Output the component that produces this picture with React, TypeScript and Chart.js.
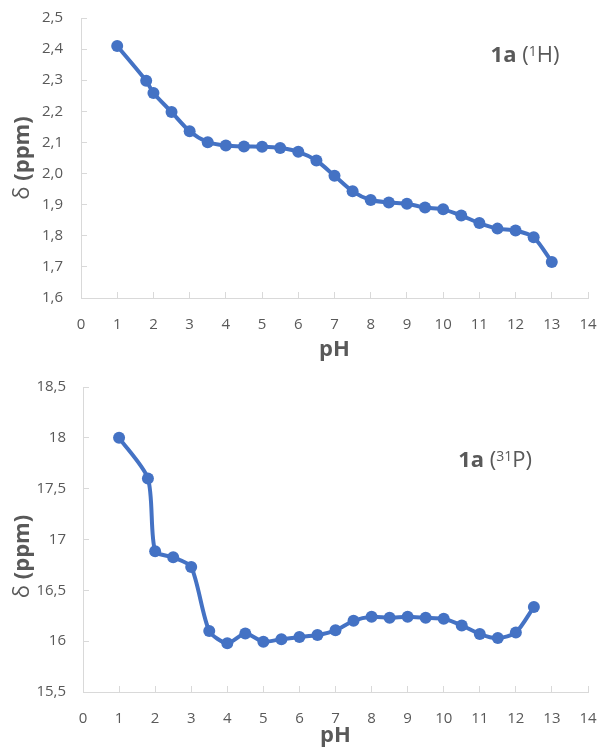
import React, { useEffect, useRef } from "react";
import { Chart, registerables } from "chart.js";

Chart.register(...registerables);

// ---- data ----
const phH = [1, 1.8, 2, 2.5, 3, 3.5, 4, 4.5, 5, 5.5, 6, 6.5, 7, 7.5, 8, 8.5, 9, 9.5, 10, 10.5, 11, 11.5, 12, 12.5, 13];
const deltaH = [2.41, 2.298, 2.259, 2.198, 2.136, 2.101, 2.09, 2.087, 2.086, 2.082, 2.07, 2.042, 1.993, 1.943, 1.915, 1.907, 1.903, 1.891, 1.885, 1.865, 1.841, 1.823, 1.817, 1.795, 1.716];
const phP = [1, 1.8, 2, 2.5, 3, 3.5, 4, 4.5, 5, 5.5, 6, 6.5, 7, 7.5, 8, 8.5, 9, 9.5, 10, 10.5, 11, 11.5, 12, 12.5];
const deltaP = [18.0, 17.6, 16.885, 16.825, 16.73, 16.1, 15.98, 16.075, 15.995, 16.02, 16.04, 16.06, 16.107, 16.2, 16.24, 16.23, 16.24, 16.23, 16.22, 16.155, 16.07, 16.03, 16.085, 16.337];

const xTitle = "pH";
const yTitleSymbol = "δ";
const yTitleUnit = " (ppm)";
// annotation text parts: [text, kind] where kind: b = bold, n = normal, s = superscript
const labelTopParts: [string, string][] = [["1a", "b"], [" (", "n"], ["1", "s"], ["H)", "n"]];
const labelBottomParts: [string, string][] = [["1a", "b"], [" (", "n"], ["31", "s"], ["P)", "n"]];

const BLUE = "#4472c4";
const TEXT = "#595959";
const AXIS = "#d9d9d9";
const FONT = '"Open Sans", sans-serif';

type Spec = {
  width: number;
  height: number;
  xs: number[];
  ys: number[];
  yMin: number;
  yMax: number;
  yStep: number;
  yFormat: (v: number) => string;
  padTop: number;
  yAxisWidth: number;
  xAxisHeight: number;
  yTickPad: number;
  xTickPad: number;
  xTitlePadBottom: number;
  yTitleShift: number;
  labelParts: [string, string][];
  labelX: number;
  labelY: number;
};

function overlayPlugin(spec: Spec) {
  return {
    id: "overlay",
    afterDraw(chart: any) {
      const { ctx, chartArea, scales } = chart;
      ctx.save();
      ctx.fillStyle = TEXT;
      // y axis title (rotated)
      ctx.save();
      ctx.translate(23, (chartArea.top + chartArea.bottom) / 2 + spec.yTitleShift);
      ctx.rotate(-Math.PI / 2);
      ctx.textBaseline = "middle";
      ctx.textAlign = "left";
      ctx.font = `400 22px ${FONT}`;
      const w1 = ctx.measureText(yTitleSymbol).width;
      ctx.font = `700 22px ${FONT}`;
      const w2 = ctx.measureText(yTitleUnit).width;
      const x0 = -(w1 + w2) / 2;
      ctx.font = `400 22px ${FONT}`;
      ctx.fillText(yTitleSymbol, x0, 0);
      ctx.font = `700 22px ${FONT}`;
      ctx.fillText(yTitleUnit, x0 + w1, 0);
      ctx.restore();
      // annotation label
      let px = scales.x.getPixelForValue(spec.labelX);
      const py = scales.y.getPixelForValue(spec.labelY);
      ctx.textBaseline = "alphabetic";
      ctx.textAlign = "left";
      for (const [t, kind] of spec.labelParts) {
        let dy = 0;
        if (kind === "b") ctx.font = `700 22px ${FONT}`;
        else if (kind === "s") {
          ctx.font = `400 14px ${FONT}`;
          dy = -6;
        } else ctx.font = `400 22px ${FONT}`;
        ctx.fillText(t, px, py + dy);
        px += ctx.measureText(t).width;
      }
      ctx.restore();
    },
  };
}

function makeConfig(spec: Spec): any {
  const data = spec.xs.map((x, i) => ({ x, y: spec.ys[i] }));
  return {
    type: "line",
    data: {
      datasets: [
        {
          data,
          borderColor: BLUE,
          backgroundColor: BLUE,
          borderWidth: 4,
          pointRadius: 6,
          pointBackgroundColor: BLUE,
          pointBorderColor: BLUE,
          pointBorderWidth: 0,
          tension: 0.25,
          fill: false,
        },
      ],
    },
    options: {
      animation: false,
      responsive: false,
      devicePixelRatio: 1,
      layout: { padding: { top: spec.padTop, left: 0, right: 14, bottom: 0 } },
      plugins: { legend: { display: false }, tooltip: { enabled: false } },
      scales: {
        x: {
          type: "linear",
          min: 0,
          max: 14,
          ticks: {
            stepSize: 1,
            color: TEXT,
            font: { family: FONT, size: 15 },
            padding: spec.xTickPad,
            maxRotation: 0,
          },
          grid: { drawOnChartArea: false, drawTicks: true, tickLength: -6, color: AXIS },
          border: { color: AXIS, width: 1 },
          title: {
            display: true,
            text: xTitle,
            color: TEXT,
            font: { family: FONT, size: 22, weight: "bold", lineHeight: 1 },
            padding: { top: 0, bottom: spec.xTitlePadBottom },
          },
          afterFit(scale: any) {
            scale.height = spec.xAxisHeight;
            scale.paddingLeft = 0;
            scale.paddingRight = 0;
          },
        },
        y: {
          type: "linear",
          min: spec.yMin,
          max: spec.yMax,
          ticks: {
            stepSize: spec.yStep,
            color: TEXT,
            font: { family: FONT, size: 15 },
            padding: spec.yTickPad,
            callback: (v: number) => spec.yFormat(v),
          },
          grid: { drawOnChartArea: false, drawTicks: true, tickLength: -6, color: AXIS },
          border: { color: AXIS, width: 1 },
          title: { display: false },
          afterFit(scale: any) {
            scale.width = spec.yAxisWidth;
            scale.paddingTop = 0;
            scale.paddingBottom = 0;
          },
        },
      },
    },
    plugins: [overlayPlugin(spec)],
  };
}

const fmtFixed1 = (v: number) => (Math.round(v * 10) / 10).toFixed(1).replace(".", ",");
const fmtGeneral = (v: number) => String(Math.round(v * 10) / 10).replace(".", ",");

const topSpec: Spec = {
  width: 602,
  height: 362,
  xs: phH,
  ys: deltaH,
  yMin: 1.6,
  yMax: 2.5,
  yStep: 0.1,
  yFormat: fmtFixed1,
  padTop: 18,
  yAxisWidth: 81,
  xAxisHeight: 64,
  yTickPad: 24,
  xTickPad: 24,
  xTitlePadBottom: 1,
  yTitleShift: 0,
  labelParts: labelTopParts,
  labelX: 11.31,
  labelY: 2.36,
};

const bottomSpec: Spec = {
  width: 602,
  height: 389,
  xs: phP,
  ys: deltaP,
  yMin: 15.5,
  yMax: 18.5,
  yStep: 0.5,
  yFormat: fmtGeneral,
  padTop: 25,
  yAxisWidth: 83,
  xAxisHeight: 59,
  yTickPad: 23,
  xTickPad: 24,
  xTitlePadBottom: 4,
  yTitleShift: 17,
  labelParts: labelBottomParts,
  labelX: 10.4,
  labelY: 17.71,
};

function ChartCanvas({ spec }: { spec: Spec }) {
  const ref = useRef<HTMLCanvasElement | null>(null);
  useEffect(() => {
    if (!ref.current) return;
    const chart = new Chart(ref.current, makeConfig(spec));
    return () => chart.destroy();
  }, [spec]);
  return (
    <canvas
      ref={ref}
      width={spec.width}
      height={spec.height}
      style={{ display: "block", width: spec.width, height: spec.height }}
    />
  );
}

export default function App() {
  return (
    <div
      style={{
        position: "absolute",
        left: 0,
        top: 0,
        width: 602,
        height: 751,
        background: "#ffffff",
        overflow: "hidden",
      }}
    >
      <ChartCanvas spec={topSpec} />
      <ChartCanvas spec={bottomSpec} />
    </div>
  );
}
